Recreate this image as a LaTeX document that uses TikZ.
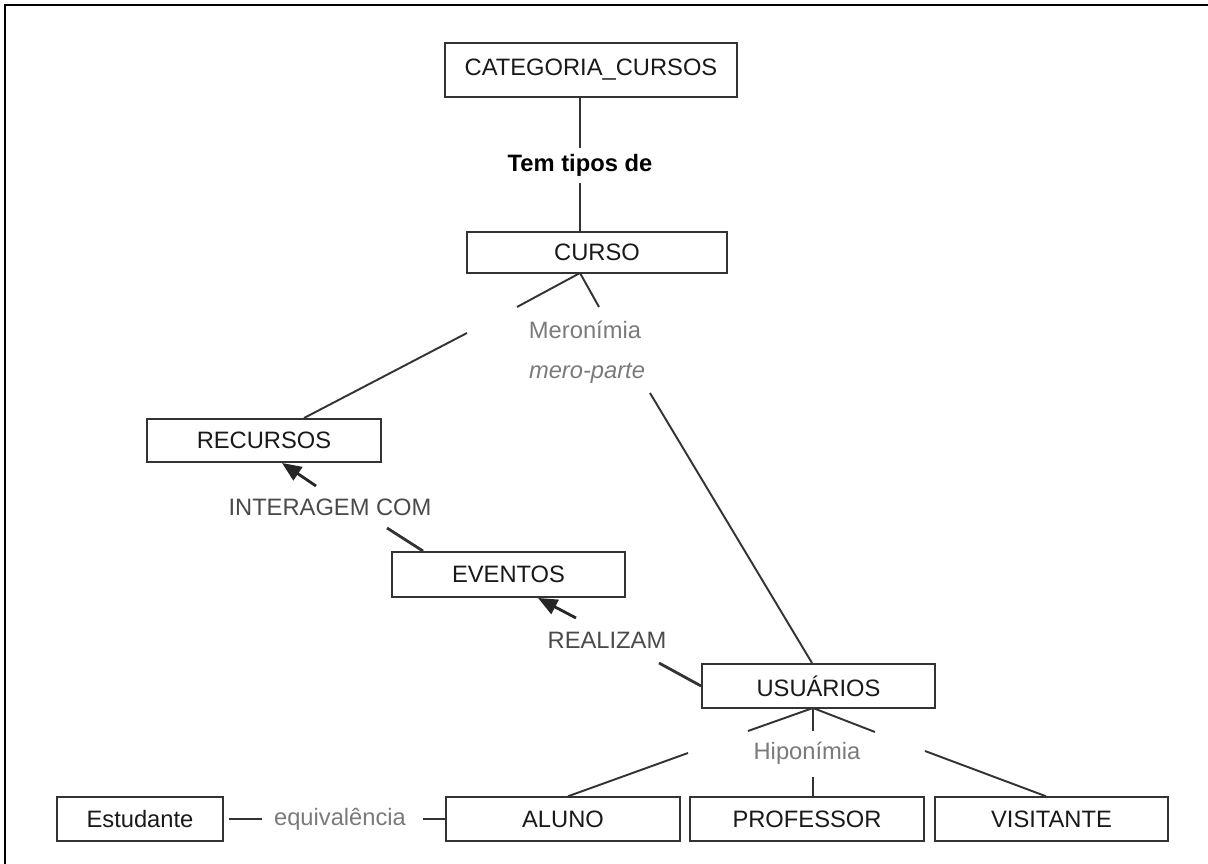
\documentclass[tikz,border=0pt]{standalone}
\usepackage{fontspec}
\setmainfont{Liberation Sans}
\usetikzlibrary{arrows.meta}
\definecolor{linegray}{HTML}{333333}
\definecolor{relgray}{HTML}{7A7A7A}
\definecolor{verbgray}{HTML}{4A4A4A}
\begin{document}
\begin{tikzpicture}[x=0.02cm,y=-0.02cm,
  font=\fontsize{13.5}{16}\selectfont,
  concept/.style={draw=linegray, line width=1.1pt, fill=white, inner sep=0pt,
    minimum width=4.68cm, minimum height=0.87cm, text=black!90},
  rellabel/.style={inner sep=0pt, text=relgray},
  verblabel/.style={inner sep=0pt, text=verbgray},
  link/.style={draw=linegray, line width=1.1pt},
  flow/.style={draw=black!85, line width=1.6pt,
    -{Triangle[length=11pt,width=9pt]}}]

% page frame (top and left edges)
\useasboundingbox (0,0) rectangle (1208,864);
\draw[line width=1.4pt] (5,864) -- (5,5) -- (1208,5);

% concept boxes
\node[concept, minimum width=5.84cm, minimum height=1.08cm] (cat) at (591,70) {CATEGORIA\_CURSOS};
\node[concept, minimum width=5.2cm, minimum height=0.82cm] (curso) at (597,252.5) {CURSO};
\node[concept, minimum height=0.86cm] (recursos) at (264,440.5) {RECURSOS};
\node[concept, minimum width=4.66cm, minimum height=0.9cm] (eventos) at (508.5,574.5) {EVENTOS};
\node[concept, minimum width=4.66cm, minimum height=0.88cm] (usuarios) at (818.5,686) {USUÁRIOS};
\node[concept, minimum width=3.32cm] (estudante) at (140,819) {Estudante};
\node[concept] (aluno) at (563,819) {ALUNO};
\node[concept] (professor) at (807,819) {PROFESSOR};
\node[concept, minimum width=4.66cm] (visitante) at (1051.5,819) {VISITANTE};

% relation labels
\node[inner sep=0pt, font=\fontsize{13.5}{16}\selectfont\bfseries] (tem) at (580,165) {Tem tipos de};
\node[rellabel] (mero) at (585,330) {Meronímia};
\node[rellabel, font=\fontsize{13.5}{16}\selectfont\itshape] (meroparte) at (587,373) {mero-parte};
\node[verblabel] (inter) at (330,507) {INTERAGEM COM};
\node[verblabel] (real) at (607,640) {REALIZAM};
\node[rellabel] (hipo) at (807,753) {Hiponímia};
\node[rellabel] (equiv) at (340,819) {equivalência};

% free ends of the connectors beside the labels
\coordinate (temtop) at (580,148);
\coordinate (tembot) at (580,183);
\coordinate (cursoapex) at (580,273);
\coordinate (meroL) at (517,307);
\coordinate (meroR) at (599,307);
\coordinate (meroLL) at (467,333);
\coordinate (meroRR) at (650,393);
\coordinate (interUp) at (316,486);
\coordinate (interDn) at (387,528);
\coordinate (realUp) at (576,618);
\coordinate (realDn) at (659,663);
\coordinate (usapex) at (813,708);
\coordinate (hipoL) at (748,731);
\coordinate (hipoM) at (813,731);
\coordinate (hipoR) at (875,732);
\coordinate (hipoLL) at (688,753);
\coordinate (hipoMM) at (813,777);
\coordinate (hipoRR) at (925,751);
\coordinate (eqL) at (262,819);
\coordinate (eqR) at (423,819);

% CATEGORIA_CURSOS -- Tem tipos de -- CURSO
\draw[link] (cat.south -| temtop) -- (temtop);
\draw[link] (tembot) -- (curso.north -| tembot);

% meronymy: CURSO -- RECURSOS / USUARIOS
\draw[link] (cursoapex) -- (meroL);
\draw[link] (cursoapex) -- (meroR);
\draw[link] (meroLL) -- (recursos.north -| 304,0);
\draw[link] (meroRR) -- (usuarios.north -| 812,0);

% EVENTOS interagem com RECURSOS
\draw[flow] (interUp) -- (recursos.south -| 282,0);
\draw[link, line width=1.6pt] (interDn) -- (eventos.north -| 423,0);

% USUARIOS realizam EVENTOS
\draw[flow] (realUp) -- (eventos.south -| 538,0);
\draw[link, line width=1.6pt] (realDn) -- (usuarios.west);

% hyponymy: USUARIOS -- ALUNO / PROFESSOR / VISITANTE
\draw[link] (usapex) -- (hipoL);
\draw[link] (usapex) -- (hipoM);
\draw[link] (usapex) -- (hipoR);
\draw[link] (hipoLL) -- (aluno.north -| 568,0);
\draw[link] (hipoMM) -- (professor.north -| hipoMM);
\draw[link] (hipoRR) -- (visitante.north -| 1046,0);

% equivalence: Estudante -- ALUNO
\draw[link] ([xshift=0.1cm]estudante.east) -- (eqL);
\draw[link] (eqR) -- (aluno.west);
\end{tikzpicture}
\end{document}
